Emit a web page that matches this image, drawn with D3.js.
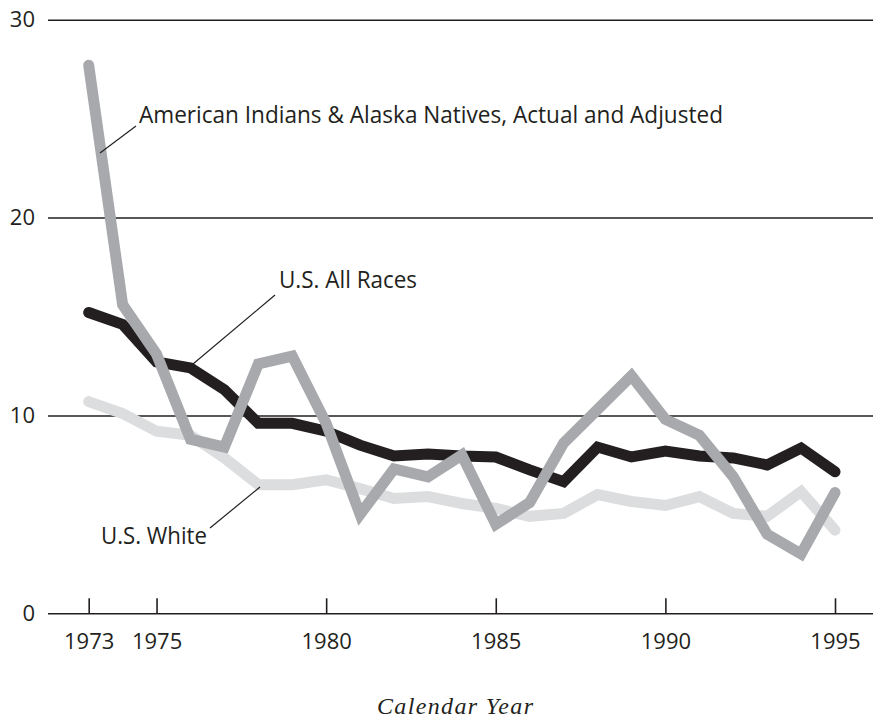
<!DOCTYPE html>
<html>
<head>
<meta charset="utf-8">
<script src="https://cdn.jsdelivr.net/npm/d3@7"></script>
<style>
  body { margin: 0; background: #fff; }
  svg { display: block; font-family: "Open Sans", sans-serif; }
</style>
</head>
<body>
<svg width="875" height="719"></svg>
<script>
// Data (rate per 100,000, by calendar year)
const years = d3.range(1973, 1996);
const aianValues = [27.7, 15.6, 13.1, 8.8, 8.4, 12.6, 13.0, 9.6, 5.0, 7.3, 6.9, 8.0,
                    4.5, 5.6, 8.6, 10.3, 12.0, 9.8, 9.0, 6.9, 4.0, 3.0, 6.1];
const allRacesValues = [15.2, 14.6, 12.7, 12.4, 11.3, 9.6, 9.6, 9.2, 8.5, 7.95, 8.05, 7.95,
                        7.9, 7.25, 6.65, 8.4, 7.9, 8.2, 7.95, 7.85, 7.5, 8.35, 7.15];
const whiteValues = [10.7, 10.1, 9.2, 9.0, 7.85, 6.5, 6.5, 6.75, 6.3, 5.8, 5.9, 5.55,
                     5.3, 4.9, 5.05, 6.0, 5.65, 5.45, 5.9, 5.05, 4.9, 6.15, 4.2];
const xTicks = [1973, 1975, 1980, 1985, 1990, 1995];
const yTicks = [0, 10, 20, 30];

const series = [
  {name: "U.S. White", values: whiteValues, color: "#dcddde"},
  {name: "U.S. All Races", values: allRacesValues, color: "#231f20"},
  {name: "American Indians & Alaska Natives, Actual and Adjusted", values: aianValues, color: "#a7a9ac"}
];

const ink = "#231f20";
const svg = d3.select("svg");

const x = d3.scaleLinear().domain([1973, 1995]).range([88.7, 835]);
const y = d3.scaleLinear().domain([0, 30]).range([613.3, 19.7]);

// Gridlines + y labels
const yAxis = svg.append("g")
    .attr("transform", "translate(48,0)")
    .call(d3.axisLeft(y).tickValues(yTicks).tickSize(-825).tickPadding(13));
yAxis.select(".domain").remove();
yAxis.selectAll(".tick line").attr("stroke", ink).attr("stroke-width", 1.6);
yAxis.selectAll(".tick text")
    .attr("fill", ink)
    .style("font-size", "22px")
    .style("font-family", "'Open Sans', sans-serif");

// X ticks go up from the zero line
const xAxis = svg.append("g")
    .attr("transform", `translate(0,${y(0)})`)
    .call(d3.axisBottom(x).tickValues(xTicks).tickFormat(d3.format("d")).tickSize(-15));
xAxis.select(".domain").remove();
xAxis.selectAll(".tick line").attr("stroke", ink).attr("stroke-width", 1.6);
xAxis.selectAll(".tick text")
    .attr("y", 36)
    .attr("dy", 0)
    .attr("fill", ink)
    .style("font-size", "22px")
    .style("font-family", "'Open Sans', sans-serif");

// Lines
const line = d3.line()
    .x((d, i) => x(years[i]))
    .y(d => y(d));

svg.append("g").selectAll("path")
  .data(series)
  .join("path")
    .attr("d", d => line(d.values))
    .attr("fill", "none")
    .attr("stroke", d => d.color)
    .attr("stroke-width", 11)
    .attr("stroke-linecap", "round")
    .attr("stroke-linejoin", "miter");

// Labels with leader lines
const labels = [
  {text: series[2].name, tx: 139, ty: 123, len: 584, lx1: 100, ly1: 153, lx2: 136, ly2: 126},
  {text: series[1].name, tx: 279, ty: 288, len: 138, lx1: 193, ly1: 364, lx2: 275, ly2: 295},
  {text: series[0].name, tx: 101, ty: 544, len: 106, lx1: 210, ly1: 528, lx2: 260, ly2: 487}
];

labels.forEach(d => {
  svg.append("line")
      .attr("x1", d.lx1).attr("y1", d.ly1)
      .attr("x2", d.lx2).attr("y2", d.ly2)
      .attr("stroke", ink)
      .attr("stroke-width", 1.2);
  svg.append("text")
      .attr("x", d.tx)
      .attr("y", d.ty)
      .attr("textLength", d.len)
      .attr("lengthAdjust", "spacingAndGlyphs")
      .attr("fill", ink)
      .style("font-size", "23px")
      .text(d.text);
});

// Axis title
svg.append("text")
    .attr("x", 377)
    .attr("y", 714)
    .attr("textLength", 156)
    .attr("lengthAdjust", "spacing")
    .attr("fill", ink)
    .style("font-family", "'Liberation Serif', 'DejaVu Serif', serif")
    .style("font-style", "italic")
    .style("font-size", "24px")
    .text("Calendar Year");
</script>
</body>
</html>
